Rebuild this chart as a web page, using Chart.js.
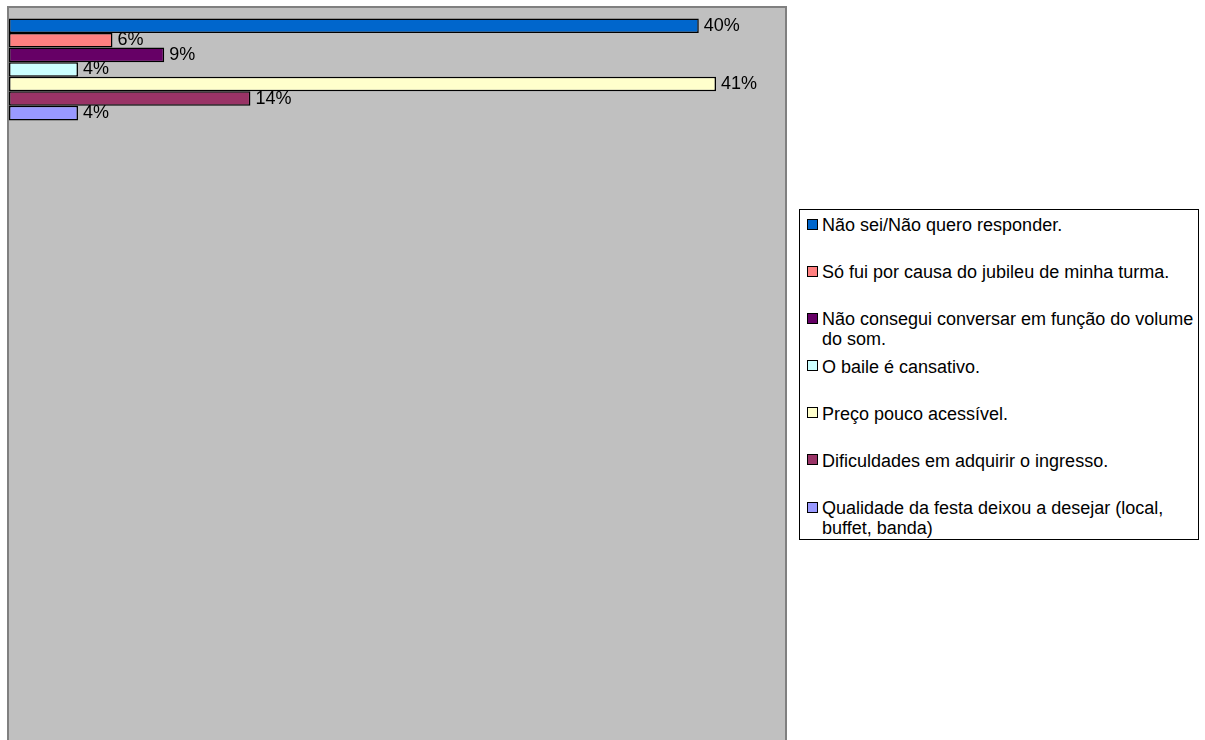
<!DOCTYPE html>
<html lang="pt">
<head>
    <meta charset="UTF-8">
    <title>Motivos</title>
    <script src="https://cdn.jsdelivr.net/npm/chart.js"></script>
    <style>
        body { margin: 0; width: 1205px; height: 740px; overflow: hidden; background: #fff;
               font-family: "Liberation Sans", Arial, sans-serif; }
        #wrap { position: absolute; left: 0; top: 0; width: 1205px; height: 760px; }
        #legend { position: absolute; left: 799px; top: 209px; width: 398px; height: 324px;
                  border: 1px solid #000; background: #fff; padding-top: 5px; box-sizing: content-box; }
        .item { position: relative; height: 47.2px; font-size: 18px; line-height: 20px; color: #000; }
        .item .box { position: absolute; left: 7px; top: 3.5px; width: 9px; height: 9px; border: 1px solid #000; }
        .item .txt { position: absolute; left: 22px; top: 0; width: 372px; }
    </style>
</head>
<body>
    <div id="wrap"><canvas id="chart" width="1205" height="760"></canvas></div>
    <div id="legend"></div>

    <script>
        // only the first slot carries data, the rest stay empty (original plot area is taller)
        const categories = ['', '', '', '', '', ''];

        const seriesNames = [
            'Não sei/Não quero responder.',
            'Só fui por causa do jubileu de minha turma.',
            'Não consegui conversar em função do volume do som.',
            'O baile é cansativo.',
            'Preço pouco acessível.',
            'Dificuldades em adquirir o ingresso.',
            'Qualidade da festa deixou a desejar (local, buffet, banda)'
        ];
        const seriesValues = [0.40, 0.06, 0.09, 0.04, 0.41, 0.14, 0.04];
        const seriesColors = ['#0066CC', '#FF8080', '#660066', '#CCFFFF', '#FFFFCC', '#993366', '#9999FF'];

        const plotArea = {
            id: 'plotArea',
            beforeDraw(chart) {
                const { ctx, chartArea: a } = chart;
                ctx.save();
                ctx.fillStyle = '#C0C0C0';
                ctx.fillRect(a.left, a.top, a.right - a.left, a.bottom - a.top);
                ctx.strokeStyle = '#808080';
                ctx.lineWidth = 2;
                ctx.strokeRect(a.left - 1, a.top - 1, a.right - a.left + 2, a.bottom - a.top + 2);
                ctx.restore();
            }
        };

        const valueLabels = {
            id: 'valueLabels',
            afterDatasetsDraw(chart) {
                const ctx = chart.ctx;
                ctx.save();
                ctx.font = '18px "Liberation Sans", Arial, sans-serif';
                ctx.fillStyle = '#000';
                ctx.textBaseline = 'middle';
                ctx.textAlign = 'left';
                chart.data.datasets.forEach((ds, i) => {
                    chart.getDatasetMeta(i).data.forEach((bar, j) => {
                        const v = ds.data[j];
                        if (v == null) return;
                        ctx.fillText(Math.round(v * 100) + '%', bar.x + 5, bar.y);
                    });
                });
                ctx.restore();
            }
        };

        const chart = new Chart(document.getElementById('chart'), {
            type: 'bar',
            data: {
                labels: categories,
                datasets: seriesNames.map((name, i) => ({
                    label: name,
                    data: [seriesValues[i]],
                    backgroundColor: seriesColors[i],
                    borderColor: '#000',
                    borderWidth: 1.5,
                    borderSkipped: false,
                    barPercentage: 1,
                    categoryPercentage: 0.83
                }))
            },
            options: {
                indexAxis: 'y',
                responsive: false,
                animation: false,
                devicePixelRatio: 1,
                layout: { padding: { left: 9, top: 8, right: 420, bottom: 15 } },
                scales: {
                    x: { type: 'linear', min: 0, max: 0.45, display: false },
                    y: { display: false }
                },
                plugins: {
                    legend: { display: false },
                    tooltip: { enabled: false }
                }
            },
            plugins: [plotArea, valueLabels]
        });

        // legend built from the chart's datasets
        const legend = document.getElementById('legend');
        chart.data.datasets.forEach(ds => {
            const item = document.createElement('div');
            item.className = 'item';
            const box = document.createElement('span');
            box.className = 'box';
            box.style.background = ds.backgroundColor;
            const txt = document.createElement('span');
            txt.className = 'txt';
            txt.textContent = ds.label;
            item.appendChild(box);
            item.appendChild(txt);
            legend.appendChild(item);
        });
    </script>
</body>
</html>
